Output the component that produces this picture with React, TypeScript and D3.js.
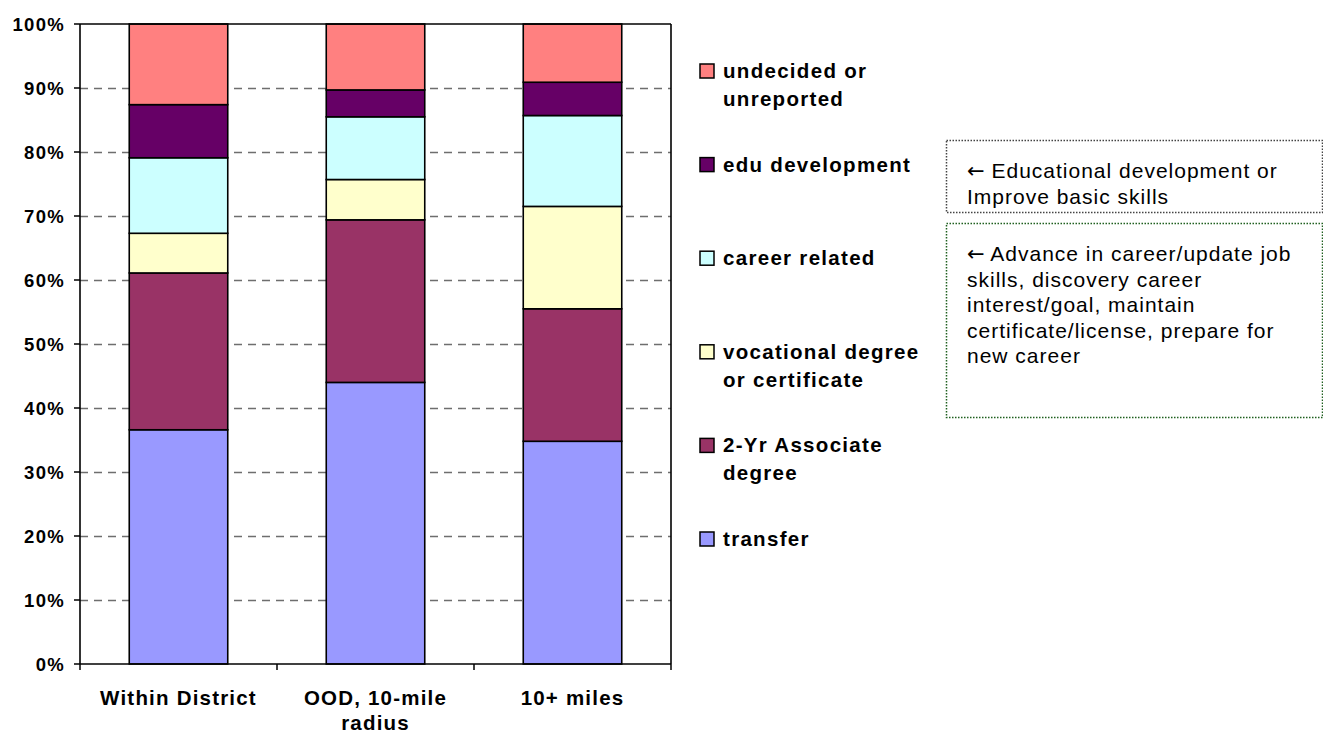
import { useEffect, useRef } from 'react';
import * as d3 from 'd3';

const categories = ['Within District', 'OOD, 10-mile radius', '10+ miles'];
const categoryLines = [['Within District'], ['OOD, 10-mile', 'radius'], ['10+ miles']];

const seriesKeys = ['transfer', 'associate', 'vocational', 'career', 'eduDev', 'undecided'];
const seriesLabels = [
  ['transfer'],
  ['2-Yr Associate', 'degree'],
  ['vocational degree', 'or certificate'],
  ['career related'],
  ['edu development'],
  ['undecided or', 'unreported'],
];
const seriesColors = ['#9999FF', '#993366', '#FFFFCC', '#CCFFFF', '#660066', '#FF8080'];

// percent of students per category
const transfer = [36.6, 44.0, 34.8];
const associate = [24.5, 25.4, 20.7];
const vocational = [6.2, 6.3, 16.0];
const career = [11.8, 9.8, 14.2];
const eduDev = [8.3, 4.2, 5.2];
const undecided = [12.6, 10.3, 9.1];

const yTicks = [0, 10, 20, 30, 40, 50, 60, 70, 80, 90, 100];

// first line of each note starts with an arrow
const notes = [
  ['Educational development or', 'Improve basic skills'],
  [
    'Advance in career/update job',
    'skills, discovery career',
    'interest/goal, maintain',
    'certificate/license, prepare for',
    'new career',
  ],
];

const W = 1323;
const H = 734;
const FONT = 'Arial, "Liberation Sans", sans-serif';

const App = () => {
  const svgRef = useRef<SVGSVGElement>(null);

  useEffect(() => {
    const svg = d3.select(svgRef.current);
    svg.selectAll('*').remove();

    const plot = { left: 80, right: 671, top: 24, bottom: 664 };

    const rows = categories.map((c, i) => ({
      key: c,
      transfer: transfer[i],
      associate: associate[i],
      vocational: vocational[i],
      career: career[i],
      eduDev: eduDev[i],
      undecided: undecided[i],
    }));

    const stacked = d3.stack<any>().keys(seriesKeys)(rows);

    const x = d3
      .scaleBand()
      .domain(categories)
      .range([plot.left, plot.right])
      .paddingInner(0.5)
      .paddingOuter(0.25);

    const y = d3.scaleLinear().domain([0, 100]).range([plot.bottom, plot.top]);

    const color = d3.scaleOrdinal<string, string>().domain(seriesKeys).range(seriesColors);

    // gridlines
    svg
      .append('g')
      .selectAll('line')
      .data(yTicks.filter(t => t > 0 && t < 100))
      .join('line')
      .attr('x1', plot.left)
      .attr('x2', plot.right)
      .attr('y1', d => Math.round(y(d)) + 0.5)
      .attr('y2', d => Math.round(y(d)) + 0.5)
      .attr('stroke', '#6e6e6e')
      .attr('stroke-width', 1.5)
      .attr('stroke-dasharray', '8,6');

    // bars
    svg
      .append('g')
      .selectAll('g')
      .data(stacked)
      .join('g')
      .attr('fill', d => color(d.key))
      .selectAll('rect')
      .data(d => d)
      .join('rect')
      .attr('x', d => x(d.data.key) as number)
      .attr('width', x.bandwidth())
      .attr('y', d => y(d[1]))
      .attr('height', d => y(d[0]) - y(d[1]))
      .attr('stroke', '#000')
      .attr('stroke-width', 1.6);

    // plot frame
    const frame = svg.append('g').attr('stroke', '#000').attr('stroke-width', 1.6);
    frame.append('line').attr('x1', plot.left).attr('x2', plot.right).attr('y1', plot.top).attr('y2', plot.top);
    frame.append('line').attr('x1', plot.right).attr('x2', plot.right).attr('y1', plot.top).attr('y2', plot.bottom);
    frame.append('line').attr('x1', plot.left).attr('x2', plot.right).attr('y1', plot.bottom).attr('y2', plot.bottom);
    frame.append('line').attr('x1', plot.left).attr('x2', plot.left).attr('y1', plot.top).attr('y2', plot.bottom);

    // y ticks + labels
    const yAxis = svg.append('g');
    yAxis
      .selectAll('line')
      .data(yTicks)
      .join('line')
      .attr('x1', plot.left - 6)
      .attr('x2', plot.left)
      .attr('y1', d => y(d))
      .attr('y2', d => y(d))
      .attr('stroke', '#000')
      .attr('stroke-width', 1.5);
    yAxis
      .selectAll('text')
      .data(yTicks)
      .join('text')
      .attr('x', 65)
      .attr('y', d => y(d) + 6.5)
      .attr('text-anchor', 'end')
      .attr('font-family', FONT)
      .attr('font-weight', 'bold')
      .attr('font-size', 18.5)
      .attr('letter-spacing', 1.3)
      .text(d => `${d}%`);

    // x ticks at category boundaries
    const step = x.step();
    const xTickPos = d3.range(categories.length + 1).map(i => plot.left + i * step);
    svg
      .append('g')
      .selectAll('line')
      .data(xTickPos)
      .join('line')
      .attr('x1', d => d)
      .attr('x2', d => d)
      .attr('y1', plot.bottom)
      .attr('y2', plot.bottom + 6)
      .attr('stroke', '#000')
      .attr('stroke-width', 1.5);

    // category labels
    svg
      .append('g')
      .selectAll('text')
      .data(categories)
      .join('text')
      .attr('text-anchor', 'middle')
      .attr('font-family', FONT)
      .attr('font-weight', 'bold')
      .attr('font-size', 20.5)
      .attr('letter-spacing', 1.2)
      .each(function (d, i) {
        const cx = (x(d) as number) + x.bandwidth() / 2;
        d3.select(this)
          .selectAll('tspan')
          .data(categoryLines[i])
          .join('tspan')
          .attr('x', cx)
          .attr('y', (_, j) => 705 + j * 25)
          .text(t => t);
      });

    // legend (top = last series)
    const legendOrder = seriesKeys.map((_, i) => i).reverse();
    const legend = svg
      .append('g')
      .selectAll('g')
      .data(legendOrder)
      .join('g')
      .attr('transform', (_, i) => `translate(700, ${71 + i * 93.6})`);
    legend
      .append('rect')
      .attr('x', 0)
      .attr('y', -7)
      .attr('width', 14)
      .attr('height', 14)
      .attr('fill', d => seriesColors[d])
      .attr('stroke', '#000')
      .attr('stroke-width', 1.5);
    legend
      .append('text')
      .attr('font-family', FONT)
      .attr('font-weight', 'bold')
      .attr('font-size', 20.5)
      .attr('letter-spacing', 1.3)
      .selectAll('tspan')
      .data(d => seriesLabels[d])
      .join('tspan')
      .attr('x', 23)
      .attr('y', (_, j) => 7 + j * 28)
      .text(t => t);

    // annotation boxes
    const boxes = [
      { x: 946, y: 140, w: 376, h: 72, stroke: '#444' },
      { x: 946, y: 223, w: 376, h: 194, stroke: '#1f5f1f' },
    ];
    const defs = svg.append('defs');
    boxes.forEach((b, i) => {
      defs
        .append('clipPath')
        .attr('id', `note-clip-${i}`)
        .append('rect')
        .attr('x', b.x)
        .attr('y', b.y)
        .attr('width', b.w)
        .attr('height', b.h);
      svg
        .append('rect')
        .attr('x', b.x + 0.5)
        .attr('y', b.y + 0.5)
        .attr('width', b.w)
        .attr('height', b.h)
        .attr('fill', 'none')
        .attr('stroke', b.stroke)
        .attr('stroke-width', 1.5)
        .attr('stroke-dasharray', '1.5,1.5');
      const txt = svg
        .append('text')
        .attr('clip-path', `url(#note-clip-${i})`)
        .attr('font-family', FONT)
        .attr('font-size', 21)
        .attr('letter-spacing', 1)
        .attr('fill', '#000');
      notes[i].forEach((line, j) => {
        const ts = txt.append('tspan').attr('x', 967).attr('y', b.y + 38 + j * 25.5);
        if (j === 0) {
          ts.append('tspan')
            .attr('font-family', '"DejaVu Sans", sans-serif')
            .attr('letter-spacing', 0)
            .text('\u2190');
          ts.append('tspan').text(' ' + line);
        } else {
          ts.text(line);
        }
      });
    });
  }, []);

  return (
    <svg
      ref={svgRef}
      width={W}
      height={H}
      style={{ position: 'absolute', left: 0, top: 0, display: 'block', background: '#fff' }}
    />
  );
};

export default App;
